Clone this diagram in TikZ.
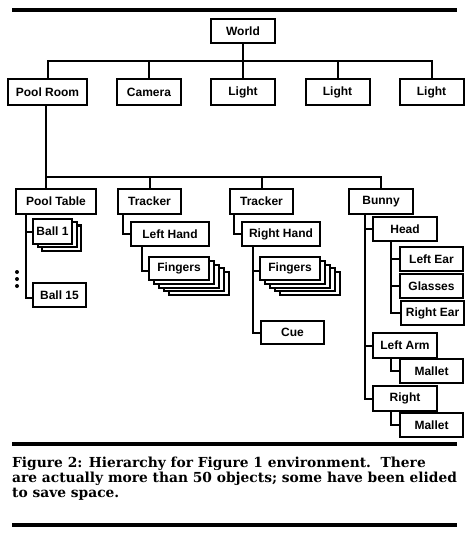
\documentclass[tikz,border=0pt]{standalone}
\usepackage{fontspec}
\setmainfont{DejaVu Serif}
\newfontfamily\boxfont{Liberation Sans}
\usetikzlibrary{shadows}
\tikzset{bx/.append style={draw, line width=2pt, fill=white, inner sep=0pt, minimum width=64pt, minimum height=24pt, font=\boxfont\bfseries\fontsize{12}{12}\selectfont}}
\tikzset{ln/.append style={line width=2pt}}
\tikzset{rl/.append style={line width=3.5pt}}
\tikzset{stk/.append style={copy shadow={draw=black, fill=white, shadow xshift=9pt, shadow yshift=-6.5pt}, copy shadow={draw=black, fill=white, shadow xshift=4.5pt, shadow yshift=-3.2pt}}}
\tikzset{stkk/.append style={copy shadow={draw=black, fill=white, shadow xshift=20pt, shadow yshift=-15pt}, copy shadow={draw=black, fill=white, shadow xshift=15pt, shadow yshift=-11pt}, copy shadow={draw=black, fill=white, shadow xshift=10pt, shadow yshift=-7.5pt}, copy shadow={draw=black, fill=white, shadow xshift=5pt, shadow yshift=-3.7pt}}}

\begin{document}
\begin{tikzpicture}[x=1pt, y=-1pt]
  \useasboundingbox (0,0) rectangle (472,534);
  % rules
  \draw[rl] (12,10) -- (457,10);
  \draw[rl] (12,444) -- (457,444);
  \draw[rl] (12,525) -- (457,525);

  % top levels
  \node[bx] (world) at (243,31.5) {World};
  \node[bx, minimum width=79pt, minimum height=26pt] (pool) at (47.5,92) {Pool Room};
  \node[bx, minimum height=26pt] (cam) at (149,92) {Camera};
  \node[bx, minimum height=26pt] (lightA) at (243,92) {Light};
  \node[bx, minimum height=26pt] (lightB) at (337.5,92) {Light};
  \node[bx, minimum height=26pt] (lightC) at (431.5,92) {Light};
  \coordinate (busA) at (0,61);
  \coordinate (busB) at (0,177);

  \node[bx, minimum width=80pt, minimum height=25pt] (ptable) at (56,201.5) {Pool Table};
  \node[bx, minimum width=63pt, minimum height=25pt] (trackA) at (149.5,201.5) {Tracker};
  \node[bx, minimum width=63pt, minimum height=25pt] (trackB) at (261.5,201.5) {Tracker};
  \node[bx, minimum height=25pt] (bunny) at (381,201.5) {Bunny};

  % pool table
  \node[bx, stk, minimum width=39pt, minimum height=25pt] (ball1) at (52.5,231.5) {Ball 1};
  \node[bx, minimum width=53pt] (ball15) at (59.5,295) {Ball 15};
  \foreach \y in {272,279,286} \fill (17,\y) circle (2pt);

  % trackers
  \node[bx, minimum width=78pt] (lhand) at (170,234) {Left Hand};
  \node[bx, stkk, minimum width=60pt, minimum height=23pt] (fingA) at (179,268.5) {Fingers};
  \node[bx, minimum width=78pt] (rhand) at (281,234) {Right Hand};
  \node[bx, stkk, minimum width=60pt, minimum height=23pt] (fingB) at (290,268.5) {Fingers};
  \node[bx, minimum width=63pt, minimum height=23pt] (cue) at (292.5,332.5) {Cue};

  % bunny
  \node[bx] (head) at (405,229) {Head};
  \node[bx, minimum width=63pt] (lear) at (431.5,259) {Left Ear};
  \node[bx, minimum width=63pt] (glass) at (431.5,286) {Glasses};
  \node[bx, minimum width=63pt] (rear) at (432.5,313) {Right Ear};
  \node[bx, minimum height=25pt] (larm) at (405,345.5) {Left Arm};
  \node[bx, minimum width=63pt] (malA) at (431.5,371) {Mallet};
  \node[bx, minimum height=25pt] (right) at (405,398.5) {Right};
  \node[bx, minimum width=63pt] (malB) at (431.5,425) {Mallet};

  % connectors
  \foreach \c in {pool,cam,lightA,lightB,lightC}
    \draw[ln] (world.south) |- (busA -| \c.north) -- (\c.north);
  \draw[ln] ([xshift=-1.5pt]pool.south) -- ([xshift=-1.5pt]pool.south |- ptable.north);
  \foreach \c in {trackA,trackB,bunny}
    \draw[ln] ([xshift=-1.5pt]pool.south) |- (busB -| \c.north) -- (\c.north);
  \draw[ln] ([xshift=11pt]ptable.south west) |- (ball1.west);
  \draw[ln] ([xshift=11pt]ptable.south west) |- ([yshift=-3pt]ball15.west);
  \draw[ln] ([xshift=6pt]trackA.south west) |- (lhand.west);
  \draw[ln] ([xshift=12pt]lhand.south west) |- ([yshift=-2pt]fingA.west);
  \draw[ln] ([xshift=5pt]trackB.south west) |- (rhand.west);
  \draw[ln] ([xshift=12pt]rhand.south west) |- ([yshift=-2pt]fingB.west);
  \draw[ln] ([xshift=12pt]rhand.south west) |- (cue.west);
  \foreach \c in {head,larm,right}
    \draw[ln] ([xshift=17pt]bunny.south west) |- (\c.west);
  \foreach \c in {lear,glass,rear}
    \draw[ln] ([xshift=19pt]head.south west) |- (\c.west);
  \draw[ln] ([xshift=19pt]larm.south west) |- (malA.west);
  \draw[ln] ([xshift=19pt]right.south west) |- (malB.west);

  % caption
  \node[anchor=north west, inner sep=0pt, align=left, font=\bfseries\fontsize{13.8}{15.2}\selectfont] (cap) at (12,456.5)
    {Figure 2: Hierarchy for Figure 1 environment.\ \ There\\
     are actually more than 50 objects; some have been elided\\
     to save space.};
\end{tikzpicture}
\end{document}
